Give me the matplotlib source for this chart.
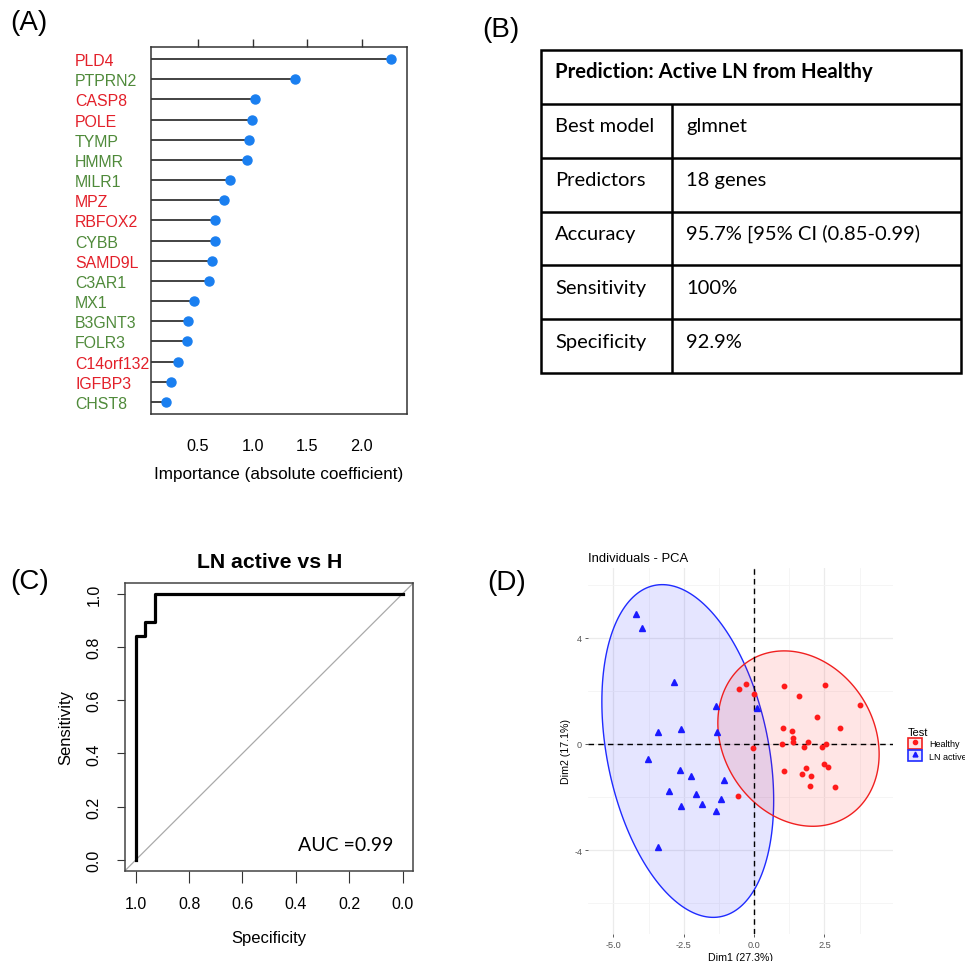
import numpy as np
import matplotlib
matplotlib.use('Agg')
import matplotlib.pyplot as plt
from matplotlib.patches import Polygon, Patch, Rectangle
from matplotlib.lines import Line2D
from matplotlib.legend_handler import HandlerTuple

plt.rcParams['font.family'] = ['Liberation Sans', 'DejaVu Sans']

# (A) variable importance
genes = ['PLD4', 'PTPRN2', 'CASP8', 'POLE', 'TYMP', 'HMMR', 'MILR1', 'MPZ', 'RBFOX2',
         'CYBB', 'SAMD9L', 'C3AR1', 'MX1', 'B3GNT3', 'FOLR3', 'C14orf132', 'IGFBP3', 'CHST8']
importance = [2.27, 1.39, 1.02, 0.995, 0.97, 0.95, 0.79, 0.74, 0.66,
              0.66, 0.63, 0.60, 0.46, 0.405, 0.40, 0.32, 0.25, 0.21]
gene_up = [True, False, True, True, False, False, False, True, True,
           False, True, False, False, False, False, True, True, False]

# (B) summary table
table_title = 'Prediction: Active LN from Healthy'
row_names = ['Best model', 'Predictors', 'Accuracy', 'Sensitivity', 'Specificity']
row_values = ['glmnet', '18 genes', '95.7% [95% CI (0.85-0.99)', '100%', '92.9%']

# (C) ROC curve
roc_spec = [1.0, 1.0, 0.964, 0.964, 0.929, 0.929, 0.0]
roc_sens = [0.0, 0.842, 0.842, 0.895, 0.895, 1.0, 1.0]
auc_label = 'AUC =0.99'

# (D) PCA individuals
healthy_x = [-0.55, -0.27, 0.00, 1.06, 2.53, 1.59, 3.75, 2.22, 1.03, 1.35, 3.05, 1.39, 1.39, 0.99,
             1.91, 1.79, 2.42, 2.54, -0.04, 1.06, 1.86, 2.48, 2.64, 1.71, 2.02, 1.99, 2.86, -0.58]
healthy_y = [2.08, 2.27, 1.87, 2.18, 2.22, 1.81, 1.47, 1.03, 0.61, 0.49, 0.59, 0.24, 0.09, 0.01,
             0.09, -0.12, -0.12, -0.01, -0.14, -1.01, -0.89, -0.76, -0.85, -1.15, -1.19, -1.59, -1.62, -1.95]
active_x = [-2.83, -1.34, 0.09, -3.41, -2.58, -1.31, -3.78, -2.65, -2.25, -1.08,
            -3.01, -2.08, -2.58, -1.85, -1.16, -1.37, -3.40, -4.21, -3.97]
active_y = [2.34, 1.42, 1.34, 0.44, 0.57, 0.44, -0.55, -0.99, -1.22, -1.35,
            -1.79, -1.89, -2.34, -2.26, -2.08, -2.53, -3.87, 4.89, 4.38]

W, H = 965, 962


def px_box(x0, y0, x1, y1):
    return [x0 / W, 1 - y1 / H, (x1 - x0) / W, (y1 - y0) / H]


def conf_ellipse(x, y, level=0.95, n_seg=201):
    # same recipe as ggplot2 stat_ellipse(type = "norm")
    pts = np.column_stack([x, y])
    dfd = len(pts) - 1
    radius = np.sqrt(dfd * ((1 - level) ** (-2.0 / dfd) - 1))
    chol = np.linalg.cholesky(np.cov(pts, rowvar=False))
    t = np.linspace(0, 2 * np.pi, n_seg)
    unit = np.column_stack([np.cos(t), np.sin(t)])
    return pts.mean(axis=0) + radius * unit @ chol.T


fig = plt.figure(figsize=(W / 100, H / 100), dpi=100)

for lab, x, y in [('(A)', 10, 23), ('(B)', 482, 30), ('(C)', 10, 582), ('(D)', 487, 583)]:
    fig.text(x / W, 1 - y / H, lab, fontsize=20, va='center', ha='left')

# ---- (A)
red_txt, green_txt = '#e3202a', '#4f8a3a'
axA = fig.add_axes(px_box(150.7, 48, 407, 415))
ypos = np.arange(len(genes))[::-1]
axA.hlines(ypos, 0, importance, color='#222222', lw=1.2)
axA.plot(importance, ypos, 'o', color='#1a7ff0', ms=6.5, zorder=3)
axA.set_xlim(0.066, 2.417)
axA.set_ylim(-0.6, 17.6)
axA.set_xticks([0.5, 1.0, 1.5, 2.0])
axA.set_xticklabels(['0.5', '1.0', '1.5', '2.0'])
axA.tick_params(axis='x', top=True, bottom=False, labeltop=False, labelbottom=True,
                direction='out', length=6, width=1, color='#333333', pad=11.5, labelsize=11.7)
axA.set_yticks(ypos)
axA.set_yticklabels(genes)
axA.tick_params(axis='y', length=0, pad=54.5, labelsize=11.4)
for lbl, up in zip(axA.get_yticklabels(), gene_up):
    lbl.set_horizontalalignment('left')
    lbl.set_color(red_txt if up else green_txt)
axA.set_xlabel('Importance (absolute coefficient)', fontsize=12.3, labelpad=9.5)
for s in axA.spines.values():
    s.set_color('#333333')
    s.set_linewidth(1.1)

# ---- (B)
axB = fig.add_axes(px_box(541, 51, 961, 374))
axB.set_xlim(0, 1)
axB.set_ylim(len(row_names) + 1, 0)
axB.axis('off')
split = (672.3 - 541) / 420
pad = 14 / 420
axB.add_patch(Rectangle((0, 0), 1, len(row_names) + 1, fill=False, lw=1.8,
                        ec='black', clip_on=False))
axB.hlines(np.arange(1, len(row_names) + 1), 0, 1, color='black', lw=1.8)
axB.vlines(split, 1, len(row_names) + 1, color='black', lw=1.8)
tfont = ['Lato', 'DejaVu Sans']
axB.text(pad, 0.51, table_title, family=tfont, fontsize=14.6, fontweight='bold', va='baseline')
for i, (nm, val) in enumerate(zip(row_names, row_values)):
    axB.text(pad, i + 1.51, nm, family=tfont, fontsize=14.5, va='baseline')
    axB.text(split + pad, i + 1.51, val, family=tfont, fontsize=14.5, va='baseline')

# ---- (C)
axC = fig.add_axes(px_box(125, 584, 413.3, 871.7))
axC.axline((1, 0), (0, 1), color='#aaaaaa', lw=0.9)
axC.plot(roc_spec, roc_sens, color='black', lw=2.3)
axC.set_xlim(1.04, -0.04)
axC.set_ylim(-0.04, 1.04)
ticks = np.arange(0, 1.01, 0.2)
axC.set_xticks(ticks)
axC.set_xticklabels(['%.1f' % t for t in ticks])
axC.set_yticks(ticks)
axC.set_yticklabels(['%.1f' % t for t in ticks], rotation=90, va='center')
axC.tick_params(axis='x', length=8.4, pad=9.6, labelsize=11.5, color='#333333')
axC.tick_params(axis='y', length=6, pad=10.8, labelsize=11.5, color='#333333')
axC.set_title('LN active vs H', fontweight='bold', fontsize=15.3, pad=11.5)
axC.set_xlabel('Specificity', fontsize=12, labelpad=14)
axC.set_ylabel('Sensitivity', fontsize=12, labelpad=9.5)
axC.text(0.215, 0.057, auc_label, family=tfont, fontsize=14, ha='center', va='center')
for s in axC.spines.values():
    s.set_color('#444444')
    s.set_linewidth(1.1)

# ---- (D)
axD = fig.add_axes(px_box(588, 569, 893, 935))
ell_h = conf_ellipse(healthy_x, healthy_y)
ell_a = conf_ellipse(active_x, active_y)
axD.add_patch(Polygon(ell_a, closed=True, fc=(0, 0, 1, 0.1), ec='#1f2bff', lw=1.0, zorder=2))
axD.add_patch(Polygon(ell_h, closed=True, fc=(1, 0, 0, 0.1), ec='#f02020', lw=1.0, zorder=2))
axD.axhline(0, color='black', lw=1.0, ls=(0, (4, 3)), zorder=3)
axD.axvline(0, color='black', lw=1.0, ls=(0, (4, 3)), zorder=3)
axD.plot(healthy_x, healthy_y, 'o', color='#ff1a1a', ms=3.2, zorder=4)
axD.plot(active_x, active_y, '^', color='#1a1aff', ms=4, zorder=4)

allx = np.concatenate([ell_h[:, 0], ell_a[:, 0], healthy_x, active_x])
ally = np.concatenate([ell_h[:, 1], ell_a[:, 1], healthy_y, active_y])
dx = 0.05 * (allx.max() - allx.min())
dy = 0.05 * (ally.max() - ally.min())
axD.set_xlim(allx.min() - dx, allx.max() + dx)
axD.set_ylim(ally.min() - dy, ally.max() + dy)
axD.set_xticks([-5, -2.5, 0, 2.5])
axD.set_xticklabels(['-5.0', '-2.5', '0.0', '2.5'])
axD.set_xticks([-3.75, -1.25, 1.25, 3.75], minor=True)
axD.set_yticks([-4, 0, 4])
axD.set_yticklabels(['-4', '0', '4'])
axD.set_yticks([-6, -2, 2, 6], minor=True)
axD.grid(which='major', color='#ebebeb', lw=0.9)
axD.grid(which='minor', color='#f4f4f4', lw=0.6)
axD.set_axisbelow(True)
axD.tick_params(which='major', length=2.2, width=0.6, color='#444444', pad=2,
                labelsize=6.6, labelcolor='#555555')
axD.tick_params(which='minor', length=0)
for s in axD.spines.values():
    s.set_visible(False)
axD.set_title('Individuals - PCA', loc='left', fontsize=9.4, pad=5)
axD.set_xlabel('Dim1 (27.3%)', fontsize=7.7, labelpad=2)
axD.set_ylabel('Dim2 (17.1%)', fontsize=7.7, labelpad=2)

handles = [(Patch(fc=(1, 0, 0, 0.1), ec='#f02020', lw=1.2),
            Line2D([], [], marker='o', color='#ff1a1a', ls='', ms=3)),
           (Patch(fc=(0, 0, 1, 0.1), ec='#1f2bff', lw=1.2),
            Line2D([], [], marker='^', color='#1a1aff', ls='', ms=3.5))]
fig.legend(handles, ['Healthy', 'LN active'], handler_map={tuple: HandlerTuple(ndivide=1, pad=0)},
           title='Test', loc='upper left', bbox_to_anchor=(904 / W, 1 - 724 / H),
           frameon=False, fontsize=6.5, title_fontsize=8, handlelength=1.55, handleheight=1.55,
           handletextpad=0.8, labelspacing=0.12, alignment='left', borderaxespad=0)

fig.savefig('out.png', dpi=100)
